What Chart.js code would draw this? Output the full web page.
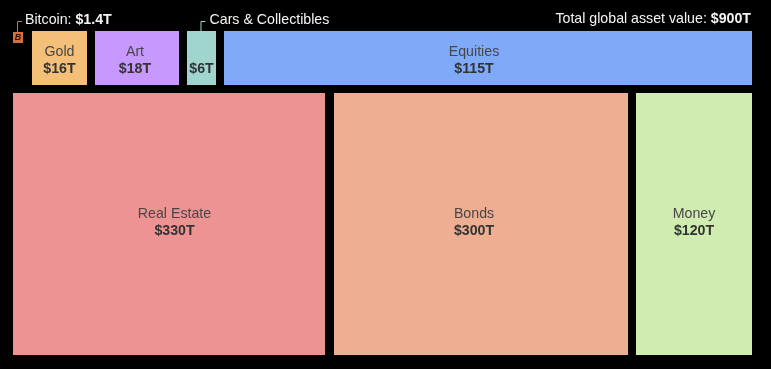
<!DOCTYPE html>
<html>
<head>
<meta charset="utf-8">
<title>Global asset value</title>
<style>
  html, body { margin: 0; padding: 0; background: #000; }
  canvas { display: block; }
</style>
<script src="https://cdn.jsdelivr.net/npm/chart.js@4"></script>
</head>
<body>
<canvas id="chart" width="771" height="369"></canvas>
<script>
// Data
const categories = ["Bitcoin", "Gold", "Art", "Cars & Collectibles", "Equities", "Real Estate", "Bonds", "Money"];
const valuesT = [1.4, 16, 18, 6, 115, 330, 300, 120];
const totalLabel = "Total global asset value: ";
const totalValue = 900;

// Tile layout in scale units, kept apart from the data
const tileRows = [0, 0, 0, 0, 0, 1, 1, 1];
const tileWidths = [10, 55, 84, 29, 528, 312, 294, 116];
const tileHeights = [11, 54, 54, 54, 54, 262, 262, 262];
const tileGaps = [9, 8, 8, 8, 0, 9, 8, 0];
const labelShifts = [0, 0, -2, 0, -14, 5.5, -7, 0];
const rowTops = [31, 93];
const rowStarts = [13, 13];
const tileColors = ["#D4703F", "#F4C079", "#C798FD", "#A0D5CF", "#7FAAF8", "#EE9393", "#EEAE92", "#D0ECB0"];

// Build the tile ranges by walking along each row
const tiles = [];
const rowCursor = rowStarts.slice();
categories.forEach((name, i) => {
    const row = tileRows[i];
    const x0 = rowCursor[row];
    const y0 = rowTops[row] + (name === "Bitcoin" ? 1 : 0);
    tiles.push({ x: [x0, x0 + tileWidths[i]], y: [y0, y0 + tileHeights[i]] });
    rowCursor[row] = x0 + tileWidths[i] + tileGaps[i];
});

// Chart.js has no treemap type, so this one places bar elements from both scales
class TreemapController extends Chart.BarController {
    updateElements(rects, start, count, mode) {
        const { xScale, yScale } = this.getMeta();
        const data = this.getDataset().data;
        for (let i = start; i < start + count; i++) {
            const left = xScale.getPixelForValue(data[i].x[0]);
            const right = xScale.getPixelForValue(data[i].x[1]);
            const top = yScale.getPixelForValue(data[i].y[0]);
            const bottom = yScale.getPixelForValue(data[i].y[1]);
            this.updateElement(rects[i], i, {
                horizontal: false,
                borderSkipped: {},
                inflateAmount: 0,
                x: (left + right) / 2,
                y: top,
                base: bottom,
                width: right - left,
                height: bottom - top,
                options: this.resolveDataElementOptions(i, mode)
            }, mode);
        }
    }
}
TreemapController.id = "treemap";
TreemapController.defaults = Chart.BarController.defaults;
Chart.register(TreemapController);

const FONT = '"Liberation Sans", Arial, sans-serif';
const TEXT_SIZE = 14.2;

function money(v) {
    return "$" + v + "T";
}

// Regular text followed by bold text on the same baseline
function mixedText(ctx, x, y, regular, bold, size, color, alignRight) {
    ctx.fillStyle = color;
    ctx.textBaseline = "middle";
    ctx.textAlign = "left";
    ctx.font = size + "px " + FONT;
    const w1 = ctx.measureText(regular).width;
    ctx.font = "bold " + size + "px " + FONT;
    const w2 = ctx.measureText(bold).width;
    const startX = alignRight ? x - w1 - w2 : x;
    ctx.font = size + "px " + FONT;
    ctx.fillText(regular, startX, y);
    ctx.font = "bold " + size + "px " + FONT;
    ctx.fillText(bold, startX + w1, y);
}

function leader(ctx, x0, y0, y1, x1, color) {
    ctx.strokeStyle = color;
    ctx.lineWidth = 1;
    ctx.beginPath();
    ctx.moveTo(x0 + 0.5, y0);
    ctx.lineTo(x0 + 0.5, y1 + 0.5);
    ctx.lineTo(x1, y1 + 0.5);
    ctx.stroke();
}

const tileLabels = {
    id: "tileLabels",
    afterDatasetsDraw(chart) {
        const ctx = chart.ctx;
        const rects = chart.getDatasetMeta(0).data;
        const y = chart.scales.y;
        ctx.save();
        rects.forEach((r, i) => {
            const name = categories[i];
            if (name === "Bitcoin") {
                ctx.fillStyle = "#2e1406";
                ctx.font = "italic bold 9px " + FONT;
                ctx.textAlign = "center";
                ctx.textBaseline = "middle";
                ctx.fillText("B", r.x, r.y + r.height / 2 + 0.5);
                leader(ctx, r.x - 1, r.y, y.getPixelForValue(21), r.x + 4, tileColors[i]);
                mixedText(ctx, r.x + 7, y.getPixelForValue(20), "Bitcoin: ", money(valuesT[i]), TEXT_SIZE, "#f5f5f5", false);
                return;
            }
            const mid = tileRows[i] === 0 ? r.y + 21 : r.y + 121;
            const cx = r.x + labelShifts[i];
            ctx.textAlign = "center";
            ctx.textBaseline = "middle";
            if (name === "Cars & Collectibles") {
                leader(ctx, r.x - 1, r.y, y.getPixelForValue(21), r.x + 4, tileColors[i]);
                mixedText(ctx, r.x + 8, y.getPixelForValue(20), name, "", TEXT_SIZE, "#f5f5f5", false);
            } else {
                ctx.fillStyle = "#474747";
                ctx.font = TEXT_SIZE + "px " + FONT;
                ctx.fillText(name, cx, mid);
            }
            ctx.fillStyle = "#333333";
            ctx.font = "bold " + TEXT_SIZE + "px " + FONT;
            ctx.textAlign = "center";
            ctx.textBaseline = "middle";
            ctx.fillText(money(valuesT[i]), cx, mid + 17);
        });
        mixedText(ctx, chart.scales.x.getPixelForValue(751), y.getPixelForValue(19), totalLabel, money(totalValue), TEXT_SIZE, "#f5f5f5", true);
        ctx.restore();
    }
};

new Chart(document.getElementById("chart"), {
    type: "treemap",
    data: {
        labels: categories,
        datasets: [{
            label: "Asset value ($T)",
            data: tiles,
            parsing: false,
            backgroundColor: tileColors,
            borderWidth: 0
        }]
    },
    options: {
        responsive: false,
        animation: false,
        layout: { padding: 0 },
        plugins: { legend: { display: false }, tooltip: { enabled: false } },
        scales: {
            x: { type: "linear", min: 0, max: 771, offset: false, display: false },
            y: { type: "linear", min: 0, max: 369, reverse: true, offset: false, display: false }
        }
    },
    plugins: [tileLabels]
});
</script>
</body>
</html>
